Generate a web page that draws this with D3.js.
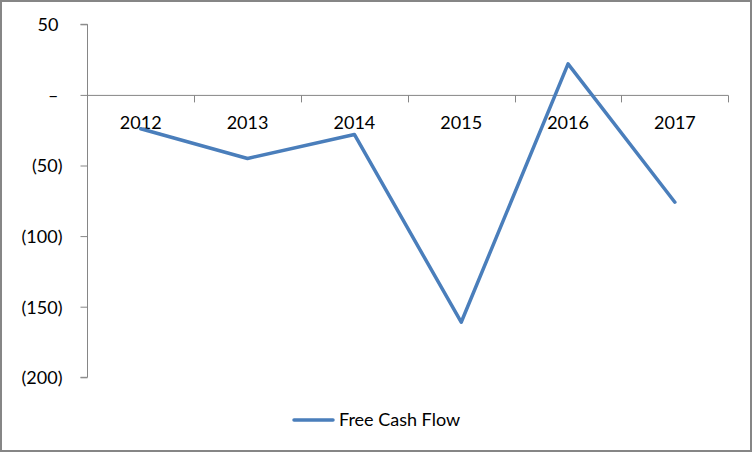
<!DOCTYPE html>
<html><head><meta charset="utf-8">
<script src="https://cdn.jsdelivr.net/npm/d3@7"></script>
<style>body{margin:0;background:#fff}svg{display:block}text{font-family:Lato,"Open Sans",sans-serif;fill:#000}</style>
</head><body><svg id="c" width="752" height="452"></svg>
<script>
const years = ["2012","2013","2014","2015","2016","2017"];
const freeCashFlow = [-24, -45, -28, -161, 22, -76];
const yTicks = [50, 0, -50, -100, -150, -200];
const seriesName = "Free Cash Flow";

const svg = d3.select("#c");
svg.append("rect").attr("x",1).attr("y",1).attr("width",750).attr("height",450)
  .attr("fill","#fff").attr("stroke","#868686").attr("stroke-width",2);

const x = d3.scaleBand().domain(years).range([87.3, 728.3]);
const y = d3.scaleLinear().domain([-200, 50]).range([377.3, 24.3]);

const fmt = v => v > 0 ? String(v) : v < 0 ? "(" + (-v) + ")" : "–";

// Y axis
const yAxis = d3.axisLeft(y).tickValues(yTicks).tickSize(7).tickFormat(fmt);
const gy = svg.append("g").attr("transform","translate(87.5,0)").call(yAxis);
gy.select(".domain").attr("stroke","#868686").attr("d","M0,"+y(50)+"V"+y(-200)+"M-7,"+y(50)+"H0M-7,"+y(-200)+"H0");
gy.selectAll(".tick line").attr("stroke","#868686");
gy.selectAll(".tick text").attr("font-size",18).attr("fill","#000")
  .attr("font-family","Lato,'Open Sans',sans-serif")
  .attr("x", d => d >= 0 ? -29 : -25).attr("dy","0.35em");

// X axis at zero
const xAxis = d3.axisBottom(x).tickSize(0).tickFormat(d => d);
const gx = svg.append("g").attr("transform","translate(0,"+(y(0)+0.5)+")").call(xAxis);
gx.select(".domain").attr("stroke","#868686").attr("d","M87.3,0H728.3");
gx.selectAll(".tick text").attr("font-size",18).attr("fill","#000")
  .attr("font-family","Lato,'Open Sans',sans-serif").attr("y",34).attr("dy",0);
// boundary ticks
const bounds = years.map(d => x(d) + x.bandwidth()).concat([x(years[0])]);
gx.selectAll(".bt").data(bounds).enter().append("line")
  .attr("x1",d=>Math.round(d)+0.5).attr("x2",d=>Math.round(d)+0.5)
  .attr("y1",0).attr("y2",7).attr("stroke","#868686");

// Line
const line = d3.line().x((d,i)=>x(years[i])+x.bandwidth()/2).y(d=>y(d));
svg.append("path").datum(freeCashFlow).attr("d",line)
  .attr("fill","none").attr("stroke","#4a7ebb").attr("stroke-width",3.5)
  .attr("stroke-linejoin","round").attr("stroke-linecap","round");

// Legend
const lg = svg.append("g");
lg.append("line").attr("x1",294).attr("x2",333).attr("y1",420).attr("y2",420)
  .attr("stroke","#4a7ebb").attr("stroke-width",3.5).attr("stroke-linecap","round");
lg.append("text").attr("x",339).attr("y",426).attr("font-size",18).text(seriesName);
</script></body></html>
